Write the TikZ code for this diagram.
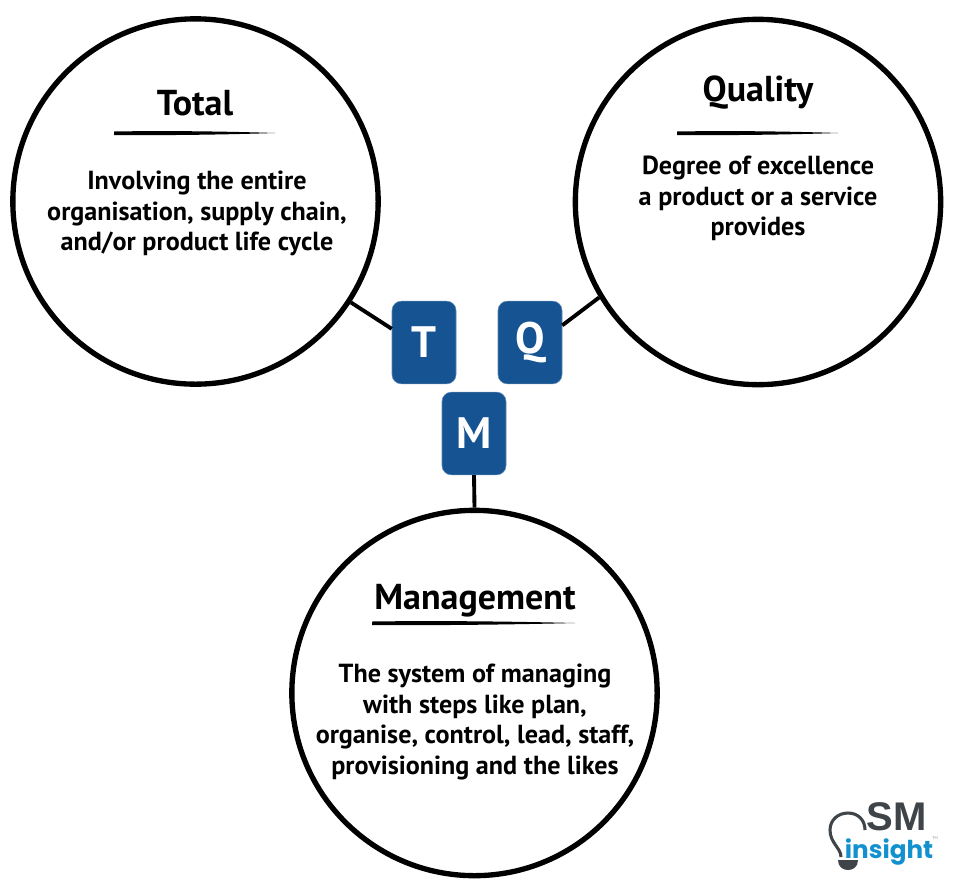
\documentclass[tikz,border=0pt]{standalone}
\usepackage{fontspec}
\setmainfont{PT Sans}
\newfontfamily\logofont{Liberation Sans}
\newfontfamily\insightfont{Poppins}
\usetikzlibrary{positioning, calc}
\definecolor{tqmblue}{HTML}{165392}
\definecolor{logogrey}{HTML}{3F4448}
\definecolor{logoblue}{HTML}{1391CE}
\tikzset{
  topic/.style={draw=black, line width=4pt, circle, minimum size=274pt, inner sep=0pt},
  letterbox/.style={fill=tqmblue, draw=tqmblue!70, line width=0.4pt, rounded corners=7pt, minimum width=48pt, minimum height=62pt, inner sep=0pt, text=white, font=\bfseries\fontsize{33}{33}\selectfont},
  conn/.style={draw=black, line width=2.9pt},
  title/.style={font=\bfseries\fontsize{27}{30}\selectfont, inner sep=0pt},
  body/.style={font=\bfseries\fontsize{19.6}{22.9}\selectfont, align=center, inner sep=0pt},
}
\begin{document}
\begin{tikzpicture}[x=0.75pt, y=-0.75pt]
  \useasboundingbox (0,0) rectangle (955,886);

  % Three circles
  \node[topic] (total)   at (195.5,201.5) {};
  \node[topic] (quality) at (758,202) {};
  \node[topic] (mgmt)    at (474.5,693) {};

  % Letter boxes
  \node[letterbox] (tbox) at (424,342.5) {T};
  \node[letterbox] (qbox) at (530,342.5) {Q};
  \node[letterbox] (mbox) at (474,433.5) {M};

  % Connectors
  \draw[conn] (total.327.7) -- (tbox.157);
  \draw[conn] (quality.211.5) -- (qbox.28);
  \draw[conn] (mgmt.north) -- (mbox.south);

  % Titles and rules
  \node[title] (totaltitle) at (195,103) {Total};
  \node[title] (qualitytitle) at (758,93) {Quality};
  \node[title] (mgmttitle) at (475,601) {Management};
  \fill (114,131.5) .. controls (170,130.5) and (230,131.5) .. (275,133) .. controls (230,134.5) and (170,135.5) .. (114,135) -- cycle;
  \fill (677,131.5) .. controls (733,130.5) and (793,131.5) .. (838,133) .. controls (793,134.5) and (733,135.5) .. (677,135) -- cycle;
  \fill (372,621.5) .. controls (440,620.5) and (515,621.5) .. (575,623) .. controls (515,624.5) and (440,625.5) .. (372,625) -- cycle;

  % Descriptions
  \node[body] (totaltext) at (197,213.5) {Involving the entire\\organisation, supply chain,\\and/or product life cycle};
  \node[body] (qualitytext) at (758,198.5) {Degree of excellence\\a product or a service\\provides};
  \node[body] (mgmttext) at (475,722) {The system of managing\\with steps like plan,\\organise, control, lead, staff,\\provisioning and the likes};

  % Logo
  \draw[logogrey, line width=2.3pt] (841,857) .. controls (841,848) and (830,843) .. (830,830) .. controls (830,820) and (838,813) .. (848,813) .. controls (858,813) and (865,820) .. (865,830);
  \fill[logogrey] (838,860) -- (858,860) .. controls (858,867) and (853,870) .. (848,870) .. controls (843,870) and (838,867) .. (838,860) -- cycle;
  \node[inner sep=0pt, text=logogrey, font=\logofont\bfseries\fontsize{30}{30}\selectfont] (logosm) at (896.5,816.5) {SM};
  \node[inner sep=0pt, anchor=base, text=logoblue, font=\insightfont\bfseries\fontsize{18.5}{20}\selectfont] (logoinsight) at (889,858) {insight};
  \node[inner sep=0pt, text=logogrey!60, font=\fontsize{3}{3}\selectfont] (logotm) at (935,838) {TM};
\end{tikzpicture}
\end{document}
